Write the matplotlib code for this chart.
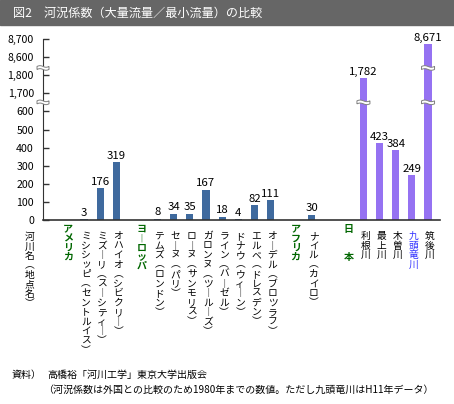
import numpy as np
import matplotlib.pyplot as plt
from matplotlib.patches import Rectangle, Polygon
from matplotlib.transforms import ScaledTranslation

plt.rcParams['font.family'] = ['Noto Sans CJK JP', 'DejaVu Sans']

# data
groups = ["アメリカ", "ヨーロッパ", "アフリカ", "日本"]
rivers = [
    ["ミシシッピ（セントルイス）", "ミズーリ（スーシティー）", "オハイオ（シビクリー）"],
    ["テムズ（ロンドン）", "セーヌ（パリ）", "ローヌ（サンモリス）", "ガロンヌ（ツールーズ）",
     "ライン（バーゼル）", "ドナウ（ウィーン）", "エルベ（ドレスデン）", "オーデル（ブロツラフ）"],
    ["ナイル（カイロ）"],
    ["利根川", "最上川", "木曽川", "九頭竜川", "筑後川"],
]
values = [
    [3, 176, 319],
    [8, 34, 35, 167, 18, 4, 82, 111],
    [30],
    [1782, 423, 384, 249, 8671],
]
yticks = [0, 100, 200, 300, 400, 500, 600, 1700, 1800, 8600, 8700]

# broken axis: 0-650, 1650-1850, 8550-8800
xp = [0, 650, 1651, 1850, 8551, 8800]
fp = [0, 650, 651, 850, 851, 1100]
def fwd(v):
    return np.interp(v, xp, fp)
def inv(t):
    return np.interp(t, fp, xp)

W, H = 454, 404
fig = plt.figure(figsize=(W / 100, H / 100), dpi=100)
ax = fig.add_axes([43 / W, (H - 220) / H, (440 - 43) / W, (220 - 39) / H])
ax.set_yscale('function', functions=(fwd, inv))

def px(x, y):
    return x / W, 1 - y / H

group_start = [0.0, 4.55, 14.1, 17.3]
head_off = [-1.0, -1.0, -1.0, -0.9]
blue = '#3f6a9e'
purple = '#9572f2'

def vert(s):
    s = s.replace('（', '︵').replace('）', '︶').replace('ー', '︱')
    return '\n'.join(s)

for g in range(len(groups)):
    xs = group_start[g] + np.arange(len(values[g]))
    col = purple if groups[g] == "日本" else blue
    bars = ax.bar(xs, values[g], width=0.44, color=col, zorder=2)
    ax.bar_label(bars, labels=[f"{v:,}" for v in values[g]], padding=1, fontsize=8.2)
    head = groups[g] if groups[g] != "日本" else "日\n\n\n本"
    ax.annotate(head if g == 3 else vert(head), xy=(group_start[g] + head_off[g], 0),
                xycoords=('data', 'axes fraction'), xytext=(0, -4), textcoords='offset pixels',
                ha='center', va='top', fontsize=7.2, fontweight='bold', color='#006600',
                linespacing=0.9, annotation_clip=False)
    for x, name in zip(xs, rivers[g]):
        ax.annotate(vert(name), xy=(x + 0.12, 0), xycoords=('data', 'axes fraction'),
                    xytext=(0, -11), textcoords='offset pixels', ha='center', va='top',
                    fontsize=7, linespacing=0.94, annotation_clip=False,
                    color='#3333ff' if name == "九頭竜川" else 'black')

ax.annotate(vert("河川名（地点名）"), xy=(-3.35, 0), xycoords=('data', 'axes fraction'),
            xytext=(0, -12), textcoords='offset pixels', ha='center', va='top',
            fontsize=7, linespacing=0.94, annotation_clip=False)

ax.set_xlim(-2.54, 22.04)
ax.set_ylim(0, 8700)
ax.set_yticks(yticks)
ax.set_yticklabels([f"{v:,}" for v in yticks])
ax.yaxis.set_minor_locator(plt.NullLocator())
ax.tick_params(axis='y', direction='in', length=4, width=1, color='#333333',
               labelsize=7.6, pad=6.5)
ax.set_xticks([])
for s in ['top', 'right']:
    ax.spines[s].set_visible(False)
ax.spines['left'].set_color('#333333')
ax.spines['bottom'].set_color('#333333')
ax.spines['bottom'].set_linewidth(1.2)

# break marks
def brk(x, y, w=0.13):
    t = np.linspace(-w / 2, w / 2, 24)
    wave = -0.008 * np.sin(t / w * 2 * np.pi)
    top = np.column_stack([t, wave + 0.015])
    bot = np.column_stack([t[::-1], wave[::-1] - 0.015])
    tr = fig.dpi_scale_trans + ScaledTranslation(x, y, ax.transData)
    ax.add_patch(Polygon(np.vstack([top, bot]), closed=True, facecolor='white',
                         edgecolor='#808080', lw=0.7, transform=tr, zorder=5, clip_on=False))

x_ax = -2.54
for yb in [650, 1840]:
    brk(x_ax, yb, 0.12)
brk(group_start[3], 650)
brk(group_start[3] + 4, 650)
brk(group_start[3] + 4, 1840)

# title band
fig.add_artist(Rectangle((0, 1 - 25 / H), 1, 25 / H, transform=fig.transFigure,
                         color='#666666', zorder=0))
fig.text(*px(13, 13), "図2　河況係数（大量流量／最小流量）の比較", color='white',
         fontsize=8.7, ha='left', va='center')

fig.text(*px(12, 375), "資料）", fontsize=7.2, ha='left', va='center')
fig.text(*px(47, 375), "高橋裕「河川工学」東京大学出版会", fontsize=7.2, ha='left', va='center')
fig.text(*px(43, 390), "（河況係数は外国との比較のため1980年までの数値。ただし九頭竜川はH11年データ）",
         fontsize=7.2, ha='left', va='center')

fig.savefig("out.png", dpi=100)
